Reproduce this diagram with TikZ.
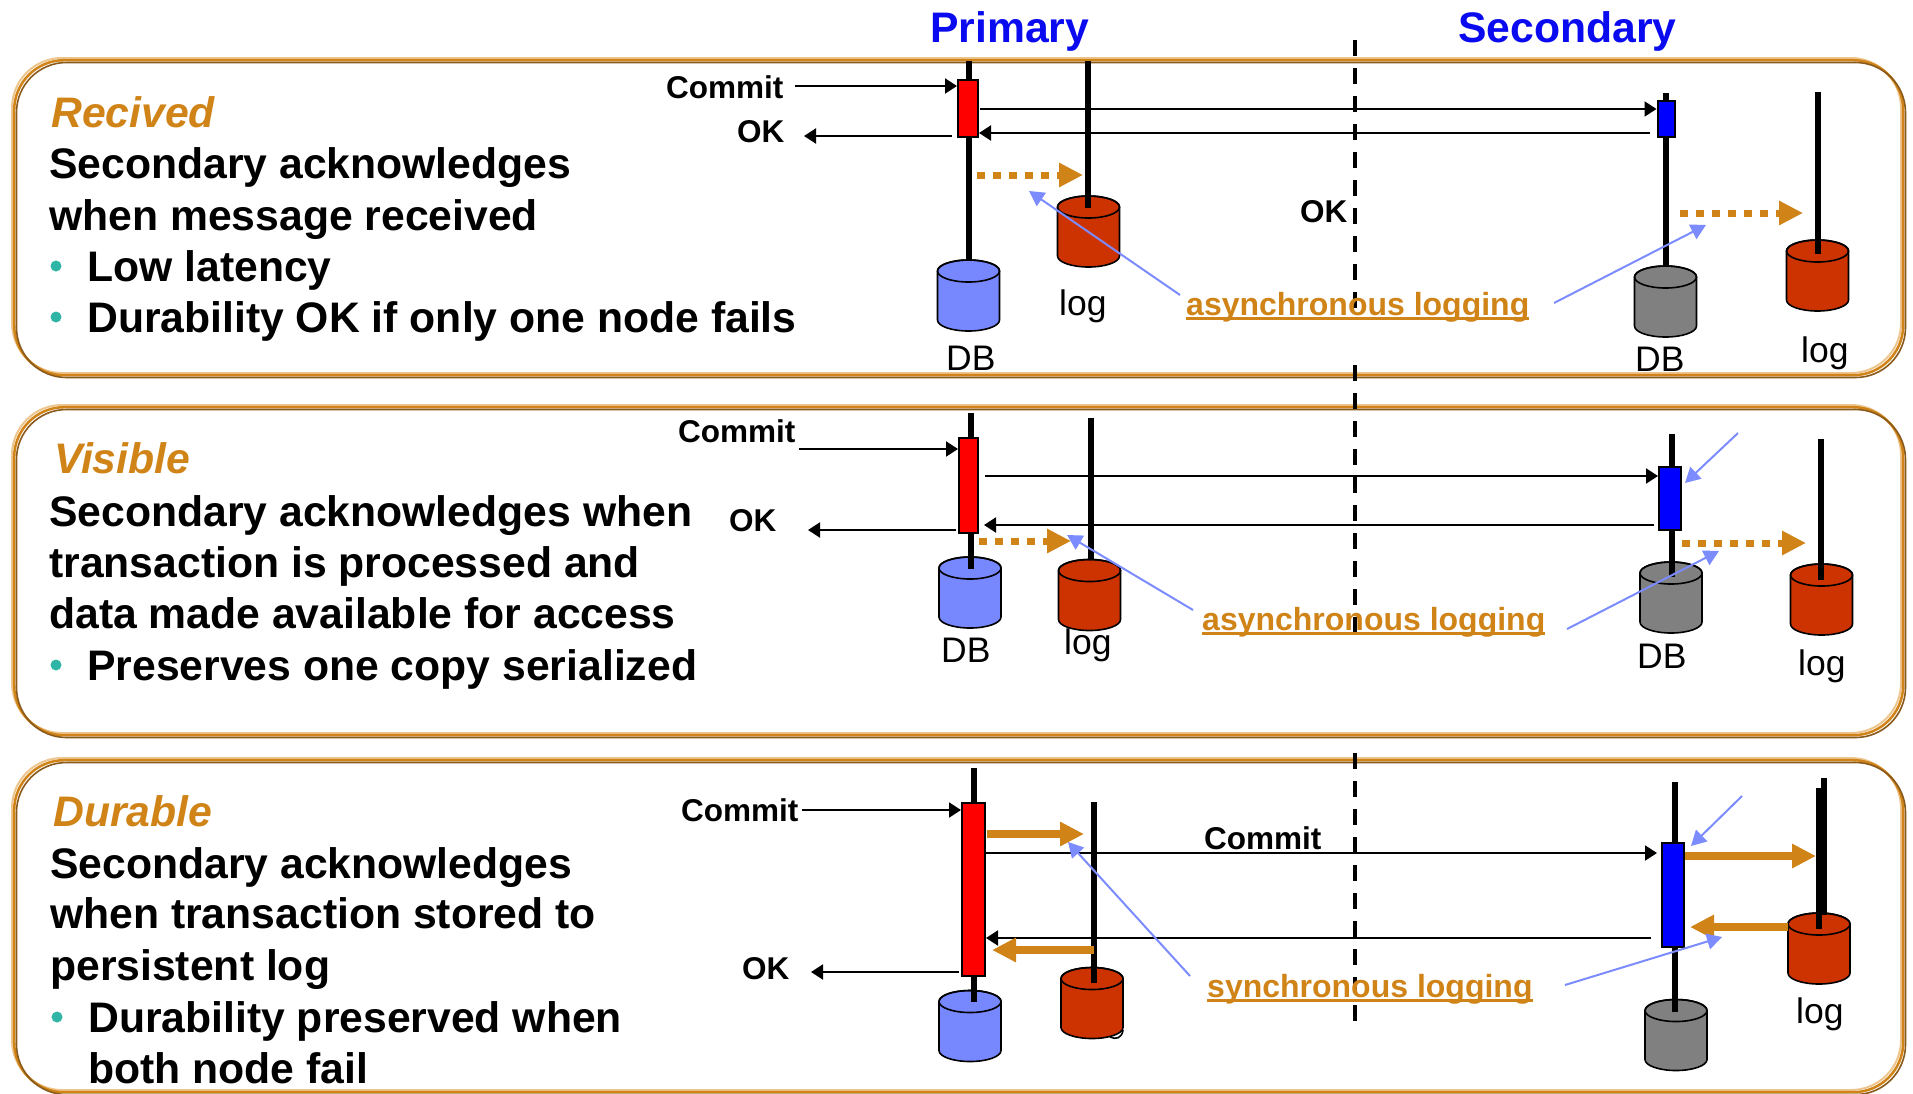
\documentclass[tikz,border=0pt]{standalone}
\usepackage{fontspec}
\setmainfont{Liberation Sans}
\usetikzlibrary{arrows.meta,calc}
\definecolor{frlight}{HTML}{ECC68E}
\definecolor{frmid}{HTML}{D08418}
\definecolor{frdark}{HTML}{8A5A1C}
\definecolor{orangetx}{HTML}{D08418}
\definecolor{bluear}{HTML}{7C8CFF}
\definecolor{dbblue}{HTML}{7788FF}
\definecolor{logred}{HTML}{CC3300}
\definecolor{dbgray}{HTML}{808080}
\definecolor{tealb}{HTML}{2FB5A6}
\definecolor{headblue}{HTML}{0A0AF0}
\newcommand\fsz[1]{\fontsize{#1}{#1}\selectfont}
\newcommand\ulx[1]{\setbox0\hbox{#1}\rlap{\copy0}\rule[-4.5pt]{\wd0}{3pt}}
\newcommand\panel[4]{%
  \draw[frlight,line width=2pt,rounded corners=50pt] (#1,#2) rectangle (#3,#4);
  \draw[frmid,line width=2.5pt,rounded corners=50pt] ($(#1,#2)+(2.2,2.2)$) rectangle ($(#3,#4)+(2.2,2.2)$);
  \draw[frdark,line width=1.6pt,rounded corners=50pt] ($(#1,#2)+(4.5,4.5)$) rectangle ($(#3,#4)+(4.5,4.5)$);
}
% named cylinder: name, centre x, centre y, fill
\newcommand\cylnode[4]{%
  \node[rectangle,inner sep=0pt,minimum width=62pt,minimum height=71pt] (#1) at (#2,#3) {};
  \begin{scope}[shift={(#1.center)}]
  \draw[cylline,fill=#4] (-31,-24.5) -- (-31,24.5)
    .. controls (-31,30.58) and (-17.1,35.5) .. (0,35.5)
    .. controls (17.1,35.5) and (31,30.58) .. (31,24.5) -- (31,-24.5)
    .. controls (31,-30.58) and (17.1,-35.5) .. (0,-35.5)
    .. controls (-17.1,-35.5) and (-31,-30.58) .. (-31,-24.5) -- cycle;
  \draw[cylline] (0,-24.5) ellipse [x radius=31,y radius=11];
  \end{scope}
}
\tikzset{
  x=1pt,y=-1pt,
  txt/.style={inner sep=0pt,anchor=base west},
  bodytxt/.style={txt,font=\fsz{42.7}\bfseries},
  headtxt/.style={txt,font=\fsz{42.7}\bfseries\itshape,text=orangetx},
  sidetxt/.style={txt,font=\fsz{42.7}\bfseries,text=headblue},
  smalltxt/.style={txt,font=\fsz{31.5}\bfseries},
  captxt/.style={txt,font=\fsz{35.5}},
  logtxt/.style={txt,font=\fsz{32}\bfseries,text=orangetx},
  bull/.style={circle,fill=tealb,inner sep=0pt,minimum size=11pt},
  cylline/.style={draw=black,line width=1.6pt},
  barbox/.style={rectangle,draw=black,line width=2pt,fill=#1,inner sep=0pt},
  lifeline/.style={line width=5.5pt,black},
  msg/.style={line width=2pt,black,-{Triangle[length=12pt,width=15pt]}},
  blarrow/.style={line width=2pt,bluear,-{Triangle[length=15pt,width=16pt]}},
  orsolid/.style={line width=8pt,frmid,-{Triangle[length=24pt,width=23pt]}},
  ordash/.style={line width=7pt,frmid,dash pattern=on 8pt off 8pt,-{Triangle[length=24pt,width=23pt]}},
  divi/.style={line width=3.5pt,black,dash pattern=on 16pt off 12pt},
}
\begin{document}
\begin{tikzpicture}
\useasboundingbox (0,0) rectangle (1913,1093);
\fill[white] (0,0) rectangle (1913,1093);
\panel{12}{58}{1901}{373}
\panel{12}{405}{1901}{733}
\panel{12}{758}{1901}{1090}

% headers
\node[sidetxt] (hp) at (930,42) {Primary};
\node[sidetxt] (hs) at (1458,42) {Secondary};

% dividers
\coordinate (d1a) at (1355,40); \coordinate (d1b) at (1355,310);
\coordinate (d2a) at (1355,365); \coordinate (d2b) at (1355,633);
\coordinate (d3a) at (1355,753); \coordinate (d3b) at (1355,1023);
\draw[divi] (d1a) -- (d1b);
\draw[divi] (d2a) -- (d2b);
\draw[divi] (d3a) -- (d3b);

% ---------- left text ----------
\node[headtxt] (t1h) at (51,127) {Recived};
\node[bodytxt] (t1a) at (49,178) {Secondary acknowledges};
\node[bodytxt] (t1b) at (49,230) {when message received};
\node[bull] (t1u) at (56,266) {};
\node[bodytxt] (t1c) at (87,281) {Low latency};
\node[bull] (t1v) at (56,317) {};
\node[bodytxt] (t1d) at (87,332) {Durability OK if only one node fails};

\node[headtxt] (t2h) at (54,473) {Visible};
\node[bodytxt] (t2a) at (49,526) {Secondary acknowledges when};
\node[bodytxt] (t2b) at (49,577) {transaction is processed and};
\node[bodytxt] (t2c) at (49,628) {data made available for access};
\node[bull] (t2u) at (56,665) {};
\node[bodytxt] (t2d) at (87,680) {Preserves one copy serialized};

\node[headtxt] (t3h) at (53,826) {Durable};
\node[bodytxt] (t3a) at (50,878) {Secondary acknowledges};
\node[bodytxt] (t3b) at (50,928) {when transaction stored to};
\node[bodytxt] (t3c) at (50,980) {persistent log};
\node[bull] (t3u) at (57,1017) {};
\node[bodytxt] (t3d) at (88,1032) {Durability preserved when};
\node[bodytxt] (t3e) at (88,1083) {both node fail};

% ---------- panel 1 ----------
\cylnode{a1db}{968.5}{295.5}{dbblue}
\cylnode{a1log}{1088.5}{231.5}{logred}
\cylnode{a2db}{1665.5}{301.5}{dbgray}
\cylnode{a2log}{1817.5}{275.5}{logred}
\coordinate (a1pt) at (969,61); \coordinate (a1lt) at (1088,61); \coordinate (a1lb) at (1088,208);
\coordinate (a2pt) at (1666,93); \coordinate (a2pb) at (1666,266);
\coordinate (a2lt) at (1818,92); \coordinate (a2lb) at (1818,254);
\draw[lifeline] (a1pt) -- (a1db.north -| a1pt);
\draw[lifeline] (a1lt) -- (a1lb);
\draw[lifeline] (a2pt) -- (a2pb);
\draw[lifeline] (a2lt) -- (a2lb);
\node[barbox=red,minimum width=20pt,minimum height=57pt] (a1bar) at (968,108.5) {};
\node[barbox=blue,minimum width=17pt,minimum height=36pt] (a2bar) at (1666,119) {};
\node[smalltxt] (a1cm) at (666,98) {Commit};
\node[smalltxt] (a1ok) at (737,142) {OK};
\node[smalltxt] (a1ok2) at (1300,222) {OK};
\coordinate (a1c) at (795,86); \draw[msg] (a1c) -- (a1c -| a1bar.west);
\coordinate (a1o) at (952,136); \coordinate (a1oe) at (804,136); \draw[msg] (a1o) -- (a1oe);
\coordinate (a1r) at (980,109); \draw[msg] (a1r) -- (a1r -| a2bar.west);
\coordinate (a1l) at (1650,133); \draw[msg] (a1l) -- (a1l -| a1bar.east);
\coordinate (a1da) at (977,175); \coordinate (a1db2) at (1083,175);
\draw[ordash] (a1da) -- (a1db2);
\coordinate (a2da) at (1680,213); \coordinate (a2db2) at (1803,213);
\draw[ordash] (a2da) -- (a2db2);
\node[captxt] (a1dbt) at (946,370) {DB};
\node[captxt] (a1logt) at (1059,315) {log};
\node[captxt] (a2dbt) at (1635,371) {DB};
\node[captxt] (a2logt) at (1801,362) {log};
\node[logtxt] (a1as) at (1186,315) {\ulx{asynchronous logging}};
\coordinate (a1b1) at (1180,295); \coordinate (a1b1e) at (1029,191);
\coordinate (a1b2) at (1554,303); \coordinate (a1b2e) at (1706,225);
\draw[blarrow] (a1b1) -- (a1b1e);
\draw[blarrow] (a1b2) -- (a1b2e);

% ---------- panel 2 ----------
\cylnode{b1db}{970}{592.5}{dbblue}
\cylnode{b1log}{1089.5}{595}{logred}
\cylnode{b2db}{1671}{597.5}{dbgray}
\cylnode{b2log}{1821.5}{599.5}{logred}
\coordinate (b1pt) at (971,413); \coordinate (b1pb) at (971,569);
\coordinate (b1lt) at (1091,418); \coordinate (b1lb) at (1091,560);
\coordinate (b2pt) at (1672,434); \coordinate (b2pb) at (1672,577);
\coordinate (b2lt) at (1821,439); \coordinate (b2lb) at (1821,580);
\draw[lifeline] (b1pt) -- (b1pb);
\draw[lifeline] (b1lt) -- (b1lb);
\draw[lifeline] (b2pt) -- (b2pb);
\draw[lifeline] (b2lt) -- (b2lb);
\node[barbox=red,minimum width=19pt,minimum height=95pt] (b1bar) at (968.5,485.5) {};
\node[barbox=blue,minimum width=22pt,minimum height=63pt] (b2bar) at (1670,498.5) {};
\node[smalltxt] (b1cm) at (678,442) {Commit};
\node[smalltxt] (b1ok) at (729,531) {OK};
\coordinate (b1c) at (799,449); \draw[msg] (b1c) -- (b1c -| b1bar.west);
\coordinate (b1o) at (956,530); \coordinate (b1oe) at (808,530); \draw[msg] (b1o) -- (b1oe);
\coordinate (b1r) at (985,476); \draw[msg] (b1r) -- (b1r -| b2bar.west);
\coordinate (b1l) at (1654,525); \coordinate (b1le) at (984,525); \draw[msg] (b1l) -- (b1le);
\coordinate (b1da) at (979,541); \coordinate (b1db2) at (1071,541);
\draw[ordash] (b1da) -- (b1db2);
\coordinate (b2da) at (1682,543); \coordinate (b2db2) at (1806,543);
\draw[ordash] (b2da) -- (b2db2);
\node[captxt] (b1dbt) at (941,662) {DB};
\node[captxt] (b1logt) at (1064,654) {log};
\node[captxt] (b2dbt) at (1637,668) {DB};
\node[captxt] (b2logt) at (1798,675) {log};
\node[logtxt] (b1as) at (1202,630) {\ulx{asynchronous logging}};
\coordinate (b1b1) at (1193,610); \coordinate (b1b1e) at (1067,535);
\coordinate (b1b2) at (1567,629); \coordinate (b1b2e) at (1719,551);
\coordinate (b1b3) at (1738,433); \coordinate (b1b3e) at (1685,483);
\draw[blarrow] (b1b1) -- (b1b1e);
\draw[blarrow] (b1b2) -- (b1b2e);
\draw[blarrow] (b1b3) -- (b1b3e);

% ---------- panel 3 ----------
\cylnode{c1db}{970}{1026}{dbblue}
\draw[line width=1.6pt] (1110,1037) .. controls (1116,1040) and (1122,1038) .. (1123,1030);
\cylnode{c1log}{1092}{1003}{logred}
\cylnode{c2db}{1676}{1035}{dbgray}
\cylnode{c2log}{1819}{948.5}{logred}
\coordinate (c1pt) at (974,768); \coordinate (c1pb) at (974,1002);
\coordinate (c1lt) at (1094,802); \coordinate (c1lb) at (1094,983);
\coordinate (c2pt) at (1675,782); \coordinate (c2pb) at (1675,1012);
\coordinate (c2lt) at (1819,788); \coordinate (c2lb) at (1819,929);
\coordinate (c2mt) at (1824,778); \coordinate (c2mb) at (1824,915);
\draw[lifeline] (c1pt) -- (c1pb);
\draw[lifeline] (c1lt) -- (c1lb);
\draw[lifeline] (c2pt) -- (c2pb);
\draw[lifeline] (c2lt) -- (c2lb);
\draw[lifeline] (c2mt) -- (c2mb);
\node[barbox=red,minimum width=23pt,minimum height=173pt] (c1bar) at (973.5,889.5) {};
\node[barbox=blue,minimum width=22pt,minimum height=104pt] (c2bar) at (1673,895) {};
\node[smalltxt] (c1cm) at (681,821) {Commit};
\node[smalltxt] (c1cm2) at (1204,849) {Commit};
\node[smalltxt] (c1ok) at (742,979) {OK};
\coordinate (c1c) at (802,810); \draw[msg] (c1c) -- (c1c -| c1bar.west);
\coordinate (c1o) at (959,972); \coordinate (c1oe) at (811,972); \draw[msg] (c1o) -- (c1oe);
\coordinate (c1r) at (986,853); \coordinate (c1re) at (1657,853); \draw[msg] (c1r) -- (c1re);
\coordinate (c1l) at (1651,938); \draw[msg] (c1l) -- (c1l -| c1bar.east);
\coordinate (c1oa) at (987,834); \coordinate (c1ob) at (1084,834);
\draw[orsolid] (c1oa) -- (c1ob);
\coordinate (c1oc) at (1094,950); \coordinate (c1od) at (992,950);
\draw[orsolid] (c1oc) -- (c1od);
\coordinate (c2oa) at (1685,856); \coordinate (c2ob) at (1816,856);
\draw[orsolid] (c2oa) -- (c2ob);
\coordinate (c2oc) at (1788,927); \coordinate (c2od) at (1690,927);
\draw[orsolid] (c2oc) -- (c2od);
\node[captxt] (c2logt) at (1796,1023) {log};
\node[logtxt] (c1as) at (1207,997) {\ulx{synchronous logging}};
\coordinate (c1b1) at (1190,976); \coordinate (c1b1e) at (1068,842);
\coordinate (c1b2) at (1565,985); \coordinate (c1b2e) at (1722,937);
\coordinate (c1b3) at (1742,796); \coordinate (c1b3e) at (1691,846);
\draw[blarrow] (c1b1) -- (c1b1e);
\draw[blarrow] (c1b2) -- (c1b2e);
\draw[blarrow] (c1b3) -- (c1b3e);
\end{tikzpicture}
\end{document}
